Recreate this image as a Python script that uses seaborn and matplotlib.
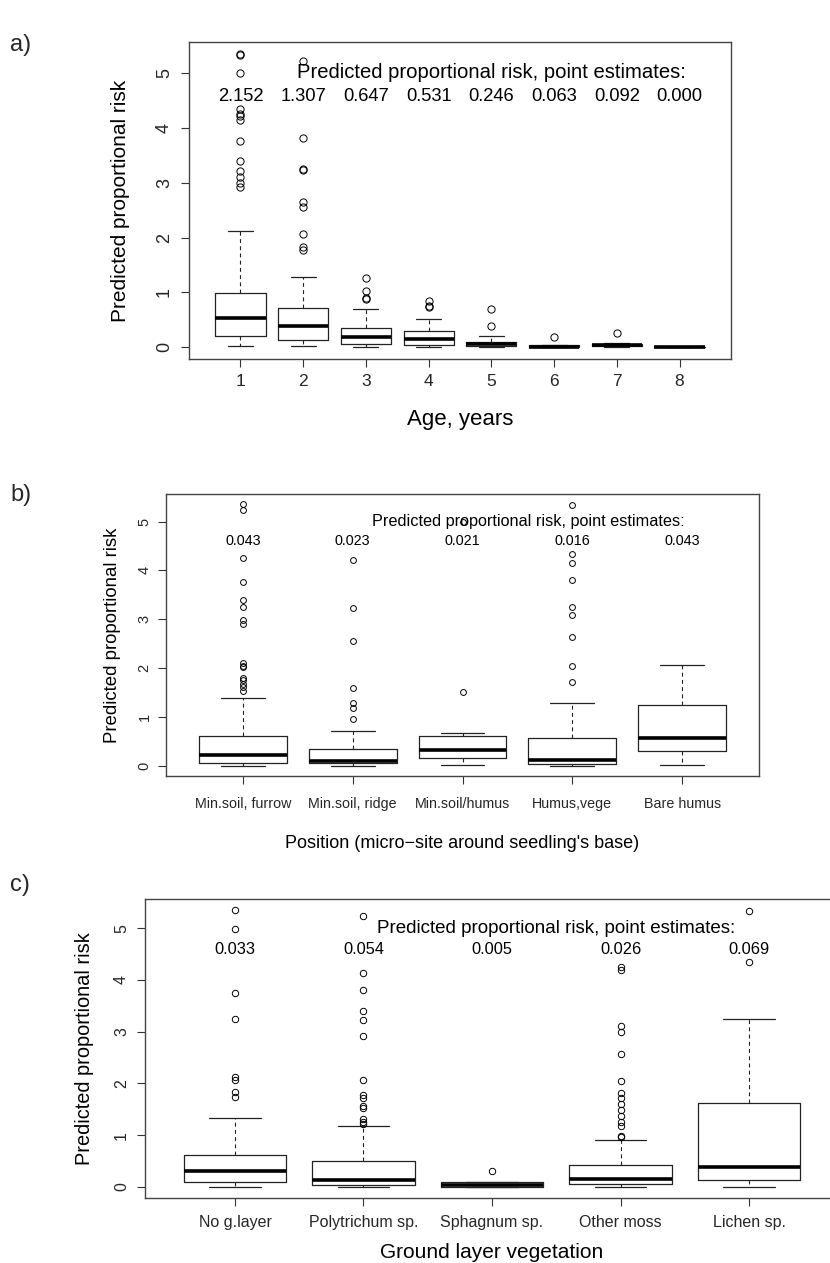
import matplotlib
matplotlib.use("Agg")
import matplotlib.pyplot as plt
import seaborn as sns

# ---------------- data ----------------
# Panel a: age classes
age_labels = ["1", "2", "3", "4", "5", "6", "7", "8"]
age_estimates = ["2.152", "1.307", "0.647", "0.531", "0.246", "0.063", "0.092", "0.000"]
age_whislo = [0.02, 0.02, 0.00, 0.00, 0.00, 0.00, 0.01, 0.00]
age_q1 = [0.21, 0.13, 0.06, 0.05, 0.02, 0.00, 0.025, 0.00]
age_med = [0.54, 0.38, 0.18, 0.15, 0.06, 0.01, 0.04, 0.005]
age_q3 = [0.98, 0.72, 0.36, 0.30, 0.10, 0.04, 0.06, 0.01]
age_whishi = [2.12, 1.28, 0.70, 0.52, 0.20, 0.04, 0.07, 0.01]
age_fliers = [
    [5.35, 5.33, 4.99, 4.35, 4.25, 4.21, 4.15, 3.76, 3.39, 3.22, 3.10, 2.99, 2.92],
    [5.22, 3.81, 3.25, 3.24, 2.64, 2.56, 2.06, 1.82, 1.77],
    [1.27, 1.02, 0.90, 0.88],
    [0.84, 0.75, 0.73],
    [0.69, 0.39],
    [0.18],
    [0.26],
    [],
]

# Panel b: position (micro-site)
pos_labels = ["Min.soil, furrow", "Min.soil, ridge", "Min.soil/humus", "Humus,vege", "Bare humus"]
pos_estimates = ["0.043", "0.023", "0.021", "0.016", "0.043"]
pos_whislo = [0.00, 0.00, 0.005, 0.00, 0.02]
pos_q1 = [0.06, 0.055, 0.16, 0.03, 0.30]
pos_med = [0.21, 0.09, 0.31, 0.12, 0.57]
pos_q3 = [0.60, 0.33, 0.61, 0.57, 1.24]
pos_whishi = [1.38, 0.71, 0.66, 1.28, 2.07]
pos_fliers = [
    [5.35, 5.23, 4.25, 3.76, 3.40, 3.25, 2.99, 2.91, 2.10, 2.05, 2.01, 1.80, 1.75, 1.67, 1.61, 1.53],
    [4.21, 3.22, 2.55, 1.58, 1.28, 1.17, 0.96],
    [5.00, 1.50],
    [5.34, 4.34, 4.15, 3.81, 3.25, 3.09, 2.64, 2.05, 1.72],
    [],
]

# Panel c: ground layer vegetation
veg_labels = ["No g.layer", "Polytrichum sp.", "Sphagnum sp.", "Other moss", "Lichen sp."]
veg_estimates = ["0.033", "0.054", "0.005", "0.026", "0.069"]
veg_whislo = [0.00, 0.00, 0.00, 0.00, 0.00]
veg_q1 = [0.09, 0.04, 0.005, 0.06, 0.13]
veg_med = [0.31, 0.13, 0.045, 0.16, 0.38]
veg_q3 = [0.62, 0.50, 0.09, 0.42, 1.62]
veg_whishi = [1.34, 1.18, 0.09, 0.90, 3.24]
veg_fliers = [
    [5.35, 4.99, 3.75, 3.25, 2.12, 2.07, 1.83, 1.73],
    [5.24, 4.14, 3.81, 3.40, 3.22, 2.92, 2.06, 1.78, 1.72, 1.57, 1.52, 1.31, 1.26, 1.22],
    [0.31],
    [4.25, 4.20, 3.11, 2.99, 2.56, 2.05, 1.82, 1.71, 1.60, 1.49, 1.37, 1.26, 1.17, 0.99, 0.96],
    [5.33, 4.34],
]

TITLE_TEXT = "Predicted proportional risk, point estimates:"
YLABEL_TEXT = "Predicted proportional risk"

# ---------------- style ----------------
sns.set_theme(style="ticks")
plt.rcParams["font.family"] = ["Liberation Sans", "DejaVu Sans"]
plt.rcParams["axes.linewidth"] = 1.0

W, H = 830, 1263
fig = plt.figure(figsize=(W / 100, H / 100), dpi=100)
fig.patch.set_facecolor("white")


def px_axes(left, top, right, bottom):
    return fig.add_axes([left / W, 1 - bottom / H, (right - left) / W, (bottom - top) / H])


def panel(ax, labels, lo, q1, med, q3, hi, fliers, estimates, *,
          tick_fs, ytick_fs, title_fs, num_fs, xlab_fs, ylab_fs, msize, title_x, est_y,
          xlabel, ylab_x, xlab_y, ytick_pad, xtick_pad):
    n = len(labels)
    stats = []
    for i in range(n):
        stats.append(dict(label=labels[i], whislo=lo[i], q1=q1[i], med=med[i],
                          q3=q3[i], whishi=hi[i], fliers=fliers[i]))
    pos = list(range(1, n + 1))
    ax.bxp(stats, positions=pos, widths=0.8, capwidths=0.4, showfliers=True,
           boxprops=dict(color="#222222", lw=0.9),
           medianprops=dict(color="black", lw=2.6, solid_capstyle="butt"),
           whiskerprops=dict(color="#222222", lw=0.8, linestyle=(0, (3.5, 3))),
           capprops=dict(color="#222222", lw=0.9),
           flierprops=dict(marker="o", markerfacecolor="none", markeredgecolor="black",
                           markersize=msize, markeredgewidth=0.7))
    ax.set_xlim(0.5 - 0.04 * n, n + 0.5 + 0.04 * n)
    ax.set_ylim(-0.214, 5.564)
    ax.set_xticks(pos)
    ax.set_xticklabels(labels, fontsize=tick_fs)
    ax.set_yticks([0, 1, 2, 3, 4, 5])
    ax.set_yticklabels(["0", "1", "2", "3", "4", "5"], fontsize=ytick_fs,
                       rotation=90, va="center")
    ax.tick_params(axis="both", direction="out", length=5.5, width=0.8, color="#333333")
    ax.tick_params(axis="y", pad=ytick_pad)
    ax.tick_params(axis="x", pad=xtick_pad)
    for s in ax.spines.values():
        s.set_visible(True)
        s.set_color("#444444")
        s.set_linewidth(1.0)
    ax.set_facecolor("white")
    ax.text(title_x, 5.0, TITLE_TEXT, ha="center", va="center",
            fontsize=title_fs, color="black")
    for i, e in enumerate(estimates):
        ax.text(pos[i], est_y, e, ha="center", va="center", fontsize=num_fs, color="black")
    ax.set_xlabel(xlabel, fontsize=xlab_fs, color="black")
    ax.set_ylabel(YLABEL_TEXT, fontsize=ylab_fs, color="black")
    ax.xaxis.label.set_va("center")
    ax.yaxis.label.set_va("center")
    ax.xaxis.set_label_coords(0.5, xlab_y)
    ax.yaxis.set_label_coords(ylab_x, 0.5)


# Panel a
axa = px_axes(189, 42, 731, 359)
panel(axa, age_labels, age_whislo, age_q1, age_med, age_q3, age_whishi, age_fliers,
      age_estimates, tick_fs=12.5, ytick_fs=13, title_fs=14.6, num_fs=13.2,
      xlab_fs=16, ylab_fs=15, msize=5.2, title_x=5.0,
      est_y=4.57, xlabel="Age, years", ylab_x=-(189 - 120) / 542,
      xlab_y=-(419 - 359) / 317, ytick_pad=6, xtick_pad=5)

# Panel b
axb = px_axes(166, 494, 759, 776)
panel(axb, pos_labels, pos_whislo, pos_q1, pos_med, pos_q3, pos_whishi, pos_fliers,
      pos_estimates, tick_fs=10.3, ytick_fs=10.5, title_fs=11.7, num_fs=10.4,
      xlab_fs=13, ylab_fs=13.4, msize=4.2, title_x=3.6,
      est_y=4.6, xlabel="Position (micro\u2212site around seedling's base)",
      ylab_x=-(166 - 112) / 593, xlab_y=-(843 - 776) / 282, ytick_pad=5, xtick_pad=9.5)

# Panel c
axc = px_axes(145, 899, 839, 1198)
panel(axc, veg_labels, veg_whislo, veg_q1, veg_med, veg_q3, veg_whishi, veg_fliers,
      veg_estimates, tick_fs=11.5, ytick_fs=11.5, title_fs=13.5, num_fs=11.8,
      xlab_fs=15, ylab_fs=14.4, msize=4.6, title_x=3.5,
      est_y=4.59, xlabel="Ground layer vegetation",
      ylab_x=-(145 - 85) / 694, xlab_y=-(1253 - 1198) / 299, ytick_pad=6, xtick_pad=7)

fig.text(10 / W, 1 - 45 / H, "a)", fontsize=17, ha="left", va="center")
fig.text(10 / W, 1 - 495 / H, "b)", fontsize=17, ha="left", va="center")
fig.text(10 / W, 1 - 885 / H, "c)", fontsize=17, ha="left", va="center")

fig.savefig("out.png", dpi=100, facecolor="white")
